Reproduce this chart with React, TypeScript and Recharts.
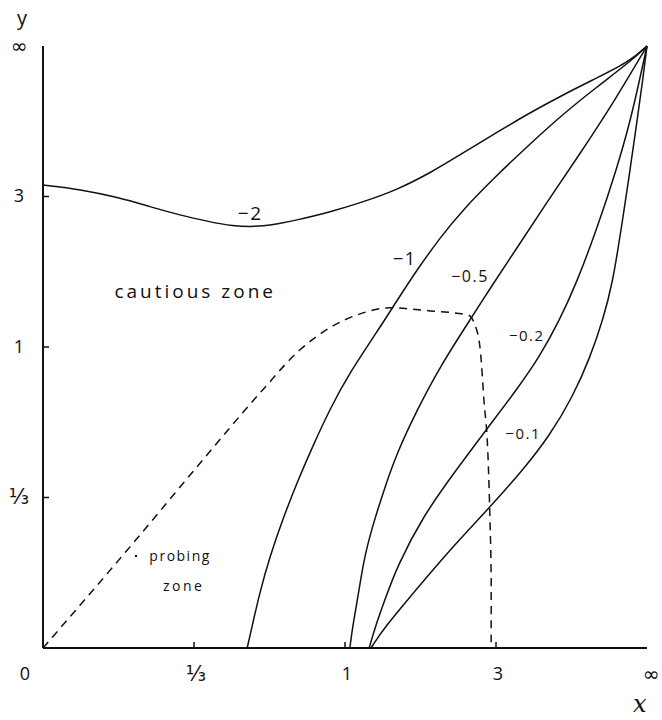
import React from 'react';
import { LineChart, Line, XAxis, YAxis, ReferenceDot } from 'recharts';

// Both axes are compressed with t = v / (1 + v), so 0..∞ maps onto 0..1.
const xTicks = [0, 0.25, 0.5, 0.75, 1];
const xTickLabels = ['0', '⅓', '1', '3', '∞'];
const yTicks = [0.25, 0.5, 0.75, 1];
const yTickLabels = ['⅓', '1', '3', '∞'];

// [t, u] pairs for each level curve
const curveM2: [number, number][] = [
  [0, 0.769], [0.061, 0.762], [0.127, 0.748], [0.177, 0.733], [0.227, 0.719],
  [0.276, 0.708], [0.31, 0.701], [0.364, 0.699], [0.421, 0.711], [0.475, 0.724],
  [0.53, 0.741], [0.586, 0.761], [0.641, 0.789], [0.695, 0.822], [0.752, 0.857],
  [0.806, 0.889], [0.861, 0.919], [0.917, 0.947], [0.972, 0.975], [1, 1],
];
const curveM1: [number, number][] = [
  [0.338, 0], [0.346, 0.035], [0.359, 0.093], [0.376, 0.153], [0.397, 0.214],
  [0.421, 0.276], [0.447, 0.336], [0.475, 0.397], [0.508, 0.458], [0.553, 0.525],
  [0.586, 0.577], [0.619, 0.628], [0.657, 0.681], [0.695, 0.728], [0.752, 0.786],
  [0.806, 0.837], [0.861, 0.887], [0.917, 0.932], [0.972, 0.974], [1, 1],
];
const curveM05: [number, number][] = [
  [0.508, 0], [0.513, 0.038], [0.522, 0.088], [0.531, 0.146], [0.545, 0.201],
  [0.566, 0.267], [0.586, 0.324], [0.619, 0.395], [0.657, 0.467], [0.707, 0.545],
  [0.74, 0.597], [0.785, 0.665], [0.834, 0.74], [0.889, 0.821], [0.944, 0.905], [1, 1],
];
const curveM02: [number, number][] = [
  [0.54, 0], [0.55, 0.035], [0.566, 0.08], [0.586, 0.135], [0.629, 0.219],
  [0.685, 0.297], [0.735, 0.364], [0.785, 0.43], [0.823, 0.485], [0.856, 0.546],
  [0.884, 0.608], [0.917, 0.696], [0.95, 0.796], [0.972, 0.874], [0.988, 0.945], [1, 1],
];
const curveM01: [number, number][] = [
  [0.543, 0], [0.566, 0.035], [0.613, 0.091], [0.669, 0.158], [0.74, 0.234],
  [0.795, 0.296], [0.839, 0.353], [0.877, 0.417], [0.906, 0.483], [0.927, 0.545],
  [0.943, 0.606], [0.957, 0.694], [0.972, 0.794], [0.983, 0.872], [0.993, 0.944], [1, 1],
];
// boundary between probing and cautious zones
const zoneBoundary: [number, number][] = [
  [0, 0], [0.144, 0.168], [0.255, 0.301], [0.364, 0.429], [0.425, 0.495],
  [0.475, 0.532], [0.525, 0.555], [0.575, 0.565], [0.641, 0.56], [0.704, 0.553],
  [0.715, 0.537], [0.724, 0.495], [0.73, 0.412], [0.737, 0.312], [0.74, 0.213],
  [0.742, 0.113], [0.742, 0],
];

const curveNames = ['−2', '−1', '−0.5', '−0.2', '−0.1'];
const curveLabelPos: [number, number][] = [
  [0.343, 0.719], [0.599, 0.645], [0.707, 0.615], [0.801, 0.517], [0.795, 0.354],
];
const curveLabelSize = [19, 18, 16, 15, 15];

const zoneTexts = ['cautious zone', 'probing', 'zone'];
const zoneTextPos: [number, number][] = [[0.252, 0.59], [0.227, 0.15], [0.233, 0.101]];
const zoneTextSize = [19, 14, 14];
const zoneTextSpacing = [3, 1.5, 2.5];

const toRows = (pts: [number, number][]) => pts.map(([t, u]) => ({ t, u }));

const INK = '#111';
const FONT = "'Open Sans', 'DejaVu Sans', sans-serif";

const tickText = (label: string) =>
  label === '∞'
    ? { fontFamily: "'DejaVu Sans', sans-serif", fontSize: 20 }
    : { fontFamily: FONT, fontSize: label === '⅓' ? 21 : 18 };

const BottomTick = (props: any) => {
  const { x, y, payload } = props;
  const inner = payload.value > 0 && payload.value < 1;
  const label = xTickLabels[xTicks.indexOf(payload.value)];
  const dx = payload.value === 0 ? -18 : payload.value === 1 ? 4 : 2;
  return (
    <g>
      {inner && <line x1={x} y1={y} x2={x} y2={y - 6} stroke={INK} strokeWidth={1.5} />}
      <text x={x + dx} y={y + 27} textAnchor="middle" dominantBaseline="middle"
        fill={INK} {...tickText(label)}>
        {label}
      </text>
    </g>
  );
};

const LeftTick = (props: any) => {
  const { x, y, payload } = props;
  const inner = payload.value < 1;
  const label = yTickLabels[yTicks.indexOf(payload.value)];
  return (
    <g>
      {inner && <line x1={x} y1={y} x2={x + 6} y2={y} stroke={INK} strokeWidth={1.5} />}
      <text x={x - 24} y={y + 1} textAnchor="middle" dominantBaseline="middle"
        fill={INK} {...tickText(label)}>
        {label}
      </text>
    </g>
  );
};

const TopTick = (props: any) => (
  <line x1={props.x} y1={props.y} x2={props.x} y2={props.y + 7} stroke={INK} strokeWidth={1.5} />
);
const RightTick = (props: any) => (
  <line x1={props.x} y1={props.y} x2={props.x - 6} y2={props.y} stroke={INK} strokeWidth={1.5} />
);

const textShape = (txt: string, size: number, spacing: number) => (p: any) => (
  <text x={p.cx} y={p.cy} textAnchor="middle" dominantBaseline="middle"
    fontFamily={FONT} fontSize={size} fill={INK} letterSpacing={spacing}>
    {txt}
  </text>
);

const curves = [curveM2, curveM1, curveM05, curveM02, curveM01];

export default function App() {
  return (
    <div style={{ position: 'absolute', left: 0, top: 0, width: 662, height: 720, background: '#fff' }}>
      <LineChart width={662} height={720} margin={{ top: 46, right: 15, bottom: 0, left: 0 }}>
        <XAxis dataKey="t" type="number" domain={[0, 1]} ticks={xTicks} height={72}
          tickSize={0} tickMargin={0} tickLine={false}
          axisLine={{ stroke: INK, strokeWidth: 2 }} tick={<BottomTick />} interval={0} />
        <XAxis xAxisId="top" orientation="top" dataKey="t" type="number" domain={[0, 1]}
          ticks={[0.5]} height={0} tickSize={0} tickMargin={0} tickLine={false}
          axisLine={{ stroke: INK, strokeWidth: 2 }} tick={<TopTick />} />
        <YAxis type="number" domain={[0, 1]} ticks={yTicks} width={43}
          tickSize={0} tickMargin={0} tickLine={false}
          axisLine={{ stroke: INK, strokeWidth: 2 }} tick={<LeftTick />} interval={0} />
        <YAxis yAxisId="right" orientation="right" type="number" domain={[0, 1]}
          ticks={[0.25, 0.5]} width={0} tickSize={0} tickMargin={0} tickLine={false}
          axisLine={{ stroke: INK, strokeWidth: 2 }} tick={<RightTick />} />

        {curves.map((c, i) => (
          <Line key={curveNames[i]} data={toRows(c)} dataKey="u" type="basis"
            stroke={INK} strokeWidth={1.5} dot={false} activeDot={false}
            isAnimationActive={false} />
        ))}
        <Line data={toRows(zoneBoundary)} dataKey="u" type="monotone" stroke={INK}
          strokeWidth={1.5} strokeDasharray="8 6" dot={false} activeDot={false}
          isAnimationActive={false} />

        {curveNames.map((n, i) => (
          <ReferenceDot key={'l' + n} x={curveLabelPos[i][0]} y={curveLabelPos[i][1]} r={0}
            shape={textShape(n, curveLabelSize[i], 1.5)} />
        ))}
        {zoneTexts.map((z, i) => (
          <ReferenceDot key={'z' + i} x={zoneTextPos[i][0]} y={zoneTextPos[i][1]} r={0}
            shape={textShape(z, zoneTextSize[i], zoneTextSpacing[i])} />
        ))}
        <ReferenceDot x={0.154} y={0.153} r={1.2} fill={INK} stroke="none" />
      </LineChart>
      <div style={{ position: 'absolute', left: 17, top: 4, fontFamily: FONT, fontSize: 20, color: INK }}>y</div>
      <div style={{ position: 'absolute', left: 633, top: 690, fontFamily: "'DejaVu Serif', serif", fontStyle: 'italic', fontSize: 24, color: INK }}>x</div>
    </div>
  );
}
